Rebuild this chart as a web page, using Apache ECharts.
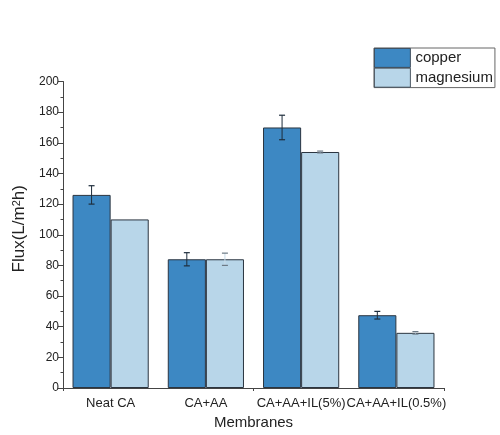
<!DOCTYPE html>
<html>
<head>
<meta charset="utf-8">
<script src="https://cdn.jsdelivr.net/npm/echarts@6/dist/echarts.min.js"></script>
<style>
  html, body { margin: 0; padding: 0; background: #fff; }
  #chart { width: 500px; height: 435px; }
</style>
</head>
<body>
<div id="chart"></div>
<script>
// Membrane flux for copper and magnesium feed solutions
var categories = ['Neat CA', 'CA+AA', 'CA+AA+IL(5%)', 'CA+AA+IL(0.5%)'];
var copperFlux = [126, 84, 170, 47.5];
var copperErr = [6, 4.3, 8, 2.5];
var magnesiumFlux = [110, 84, 154, 36];
var magnesiumErr = [0, 4, 0.6, 0.8];
var yTicks = [0, 20, 40, 60, 80, 100, 120, 140, 160, 180, 200];

var copperColor = '#3d88c3';
var magnesiumColor = '#b8d6e9';
var edgeColor = '#2b3540';
var axisColor = '#444';
var fontFamily = '"Liberation Sans", Arial, sans-serif';

var chart = echarts.init(document.getElementById('chart'));

// error bars drawn beside each bar of a group
function errorSeries(name, values, errs, offset, lineColor, capColor) {
  var data = values.map(function (v, i) { return [i, v, errs[i]]; });
  return {
    type: 'custom',
    name: name + ' error',
    xAxisIndex: 0,
    yAxisIndex: 0,
    z: 5,
    silent: true,
    data: data,
    renderItem: function (params, api) {
      var i = api.value(0), v = api.value(1), e = api.value(2);
      if (!e) return null;
      var band = api.size([1, 0])[0];
      var hi = api.coord([i, v + e]);
      var lo = api.coord([i, v - e]);
      var x = hi[0] + offset * band;
      var cap = 3;
      return {
        type: 'group',
        children: [
          { type: 'line', shape: { x1: x, y1: hi[1], x2: x, y2: lo[1] },
            style: { stroke: lineColor, lineWidth: 1 } },
          { type: 'line', shape: { x1: x - cap, y1: hi[1], x2: x + cap, y2: hi[1] },
            style: { stroke: capColor, lineWidth: 1.2 } },
          { type: 'line', shape: { x1: x - cap, y1: lo[1], x2: x + cap, y2: lo[1] },
            style: { stroke: capColor, lineWidth: 1.2 } }
        ]
      };
    }
  };
}

var option = {
  animation: false,
  textStyle: { fontFamily: fontFamily },
  grid: { left: 63, right: 56, top: 81.5, bottom: 45 },
  legend: {
    orient: 'vertical',
    left: 374,
    top: 48,
    icon: 'rect',
    itemWidth: 36,
    itemHeight: 19,
    itemGap: 0,
    padding: [0, 2, 0, 0],
    borderColor: '#666',
    borderWidth: 1,
    itemStyle: { borderWidth: 0.8, borderColor: edgeColor },
    textStyle: { fontSize: 15, color: '#222', fontFamily: fontFamily },
    data: ['copper', 'magnesium']
  },
  xAxis: [{
    type: 'category',
    data: categories,
    name: 'Membranes',
    nameLocation: 'middle',
    nameGap: 27,
    nameTextStyle: { fontSize: 15, color: '#222' },
    axisLine: { lineStyle: { color: axisColor, width: 1 } },
    axisTick: { alignWithLabel: true, length: 5, lineStyle: { color: axisColor } },
    axisLabel: { fontSize: 13, color: '#222', margin: 9, interval: 0 }
  }, {
    type: 'category',
    data: categories,
    position: 'bottom',
    axisLine: { show: false },
    axisTick: { show: true, length: 3, lineStyle: { color: axisColor } },
    axisLabel: { show: false }
  }],
  yAxis: {
    type: 'value',
    min: yTicks[0],
    max: yTicks[yTicks.length - 1],
    interval: yTicks[1] - yTicks[0],
    name: 'Flux(L/m{sup|2}h)',
    nameLocation: 'middle',
    nameRotate: 90,
    nameGap: 31,
    nameTextStyle: {
      fontSize: 17, color: '#222', padding: [0, 0, 0, 12],
      rich: { sup: { fontSize: 11, color: '#222', verticalAlign: 'top', fontFamily: fontFamily } }
    },
    axisLine: { show: true, lineStyle: { color: axisColor, width: 1 } },
    axisTick: { show: true, length: 5, lineStyle: { color: axisColor } },
    minorTick: { show: true, splitNumber: 2, length: 2.5, lineStyle: { color: axisColor } },
    splitLine: { show: false },
    axisLabel: { fontSize: 12, color: '#222', margin: 4 }
  },
  series: [
    {
      name: 'copper',
      type: 'bar',
      data: copperFlux,
      barGap: '0%',
      barCategoryGap: '20%',
      itemStyle: { color: copperColor, borderColor: edgeColor, borderWidth: 1 }
    },
    {
      name: 'magnesium',
      type: 'bar',
      data: magnesiumFlux,
      itemStyle: { color: magnesiumColor, borderColor: edgeColor, borderWidth: 1 }
    },
    errorSeries('copper', copperFlux, copperErr, -0.2, '#1e2d3c', '#1e2d3c'),
    errorSeries('magnesium', magnesiumFlux, magnesiumErr, 0.2, '#c9dcea', '#6d7a86')
  ]
};

chart.setOption(option);
</script>
</body>
</html>
